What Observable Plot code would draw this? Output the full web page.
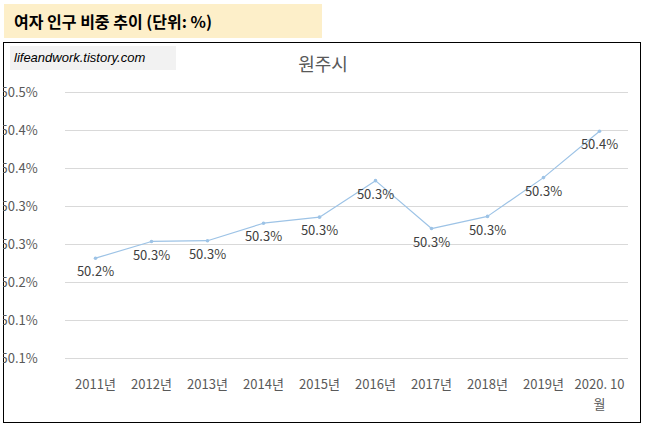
<!DOCTYPE html>
<html><head><meta charset="utf-8">
<script src="https://cdn.jsdelivr.net/npm/d3@7"></script>
<script src="https://cdn.jsdelivr.net/npm/@observablehq/plot@0.6"></script>
<style>
body{margin:0;background:#fff;font-family:"Noto Sans CJK KR","Noto Sans",sans-serif;}
#wrap{position:relative;width:646px;height:427px;}
#title{position:absolute;left:4px;top:4px;width:318px;height:34px;background:#fdefc9;font-weight:bold;font-size:16px;line-height:34px;padding-left:10px;box-sizing:border-box;color:#000;}
#frame{position:absolute;left:3px;top:42px;width:636px;height:379px;border:1px solid #000;}
#src{position:absolute;left:10px;top:46px;width:166px;height:24px;background:#f2f2f2;font-style:italic;font-size:13px;line-height:24px;padding-left:4px;box-sizing:border-box;font-family:"Liberation Sans",sans-serif;}
#ctitle{position:absolute;left:0;width:646px;top:50px;text-align:center;font-size:18px;color:#595959;}
#chart{position:absolute;left:3px;top:42px;}
</style></head><body>
<div id="wrap">
<div id="title">여자 인구 비중 추이 (단위: %)</div>
<div id="frame"></div>
<div id="ctitle">원주시</div>
<div id="chart"></div>
<div id="src">lifeandwork.tistory.com</div>
</div>
<script>
const years = ["2011년","2012년","2013년","2014년","2015년","2016년","2017년","2018년","2019년","2020. 10\n월"];
const values = [50.232,50.254,50.255,50.278,50.286,50.334,50.271,50.287,50.338,50.399];
const yTicks = [50.10,50.15,50.20,50.25,50.30,50.35,50.40,50.45];
const data = years.map((y,i)=>({year:y,value:values[i]}));
const svg = Plot.plot({
  width:637,height:380,
  marginTop:50,marginBottom:64,marginLeft:62,marginRight:12,
  style:{fontFamily:"'Noto Sans CJK KR','Noto Sans',sans-serif",fontSize:"13px",color:"#595959",background:"transparent"},
  x:{type:"point",domain:years,padding:0.5,label:null},
  y:{domain:[50.10,50.45],label:null},
  marks:[
    Plot.gridY(yTicks,{stroke:"#d9d9d9",strokeOpacity:1}),
    Plot.axisY(yTicks,{tickSize:0,tickFormat:d=>d.toFixed(1)+"%",textAnchor:"start",dx:-56,fill:"#595959"}),
    Plot.axisX({tickSize:0,fill:"#595959",dy:8,lineHeight:1.5}),
    Plot.line(data,{x:"year",y:"value",stroke:"#9dc3e6",strokeWidth:1.2}),
    Plot.dot(data,{x:"year",y:"value",fill:"#9dc3e6",r:1.8}),
    Plot.text(data,{x:"year",y:"value",text:d=>d.value.toFixed(1)+"%",dy:14,fill:"#404040"})
  ]
});
document.getElementById("chart").appendChild(svg);
</script>
</body></html>
